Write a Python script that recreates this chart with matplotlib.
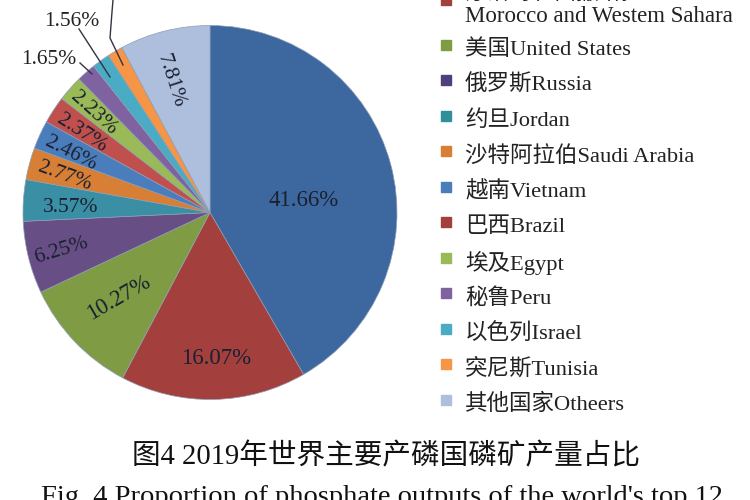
import matplotlib

matplotlib.use("Agg")
import matplotlib.pyplot as plt
import numpy as np

plt.rcParams["font.family"] = ["Liberation Serif", "Noto Sans CJK SC"]

values = [41.66, 16.07, 10.27, 6.25, 3.57, 2.77, 2.46, 2.37, 2.23, 1.65, 1.56, 1.33, 7.81]
pie_labels = ["41.66%", "16.07%", "10.27%", "6.25%", "3.57%", "2.77%", "2.46%", "2.37%", "2.23%", "", "", "", "7.81%"]
colors = ["#3c689f", "#a3403e", "#7f9c45", "#674f85", "#3a8fa5", "#d77f35", "#4a7dbb", "#bf504d",
          "#9aba58", "#7f63a1", "#4aabc5", "#f59545", "#aebfdd"]
legend_names = ["美国United States", "俄罗斯Russia", "约旦Jordan", "沙特阿拉伯Saudi Arabia", "越南Vietnam", "巴西Brazil",
                "埃及Egypt", "秘鲁Peru", "以色列Israel", "突尼斯Tunisia", "其他国家Otheers"]
legend_colors = ["#7f9c45", "#4f3f7f", "#2f8f9a", "#d77f35", "#4a7dbb", "#a3403e",
                 "#9aba58", "#7f63a1", "#4aabc5", "#f59545", "#aebfdd"]

# label placement in image pixels: x, y, rotation
label_pos = [(304, 200, 0), (216, 358, 0), (119, 298, 30), (61, 251, 17), (71, 208, 0), (65, 176, -20),
             (71, 154, -27), (82, 133, -33), (94, 113, -42), None, None, None, (170, 81, -72)]


def py(y):
    return 500 - y


fig = plt.figure(figsize=(7.5, 5), dpi=100)
ax = fig.add_axes([0, 0, 1, 1])
ax.pie(values, colors=colors, startangle=90, counterclock=False, center=(210, py(212.5)), radius=187,
       frame=True, wedgeprops={"edgecolor": "#8f9db5", "linewidth": 0.5})
ax.set_xlim(0, 750)
ax.set_ylim(0, 500)
ax.axis("off")

for i, (text, pos) in enumerate(zip(pie_labels, label_pos)):
    if pos:
        ax.text(pos[0], py(pos[1]), text, fontsize=16.5 if i < 3 else 15.5, color="#1a2030", rotation=pos[2],
                ha="center", va="center", rotation_mode="anchor")

# leaders for the small slices
ax.plot([80, 92], [py(63), py(74)], color="#333344", lw=1)
ax.plot([79, 110], [py(29), py(77)], color="#333344", lw=1)
ax.plot([113, 112, 110, 123], [py(0), py(12), py(38), py(65)], color="#333344", lw=1)
ax.text(49, py(60), "1.65%", fontsize=15.5, color="#222222", ha="center", va="center")
ax.text(72, py(22), "1.56%", fontsize=15.5, color="#222222", ha="center", va="center")

# legend
ax.plot(446, py(0), "s", ms=7, color="#a3403e", clip_on=True)
ax.text(465, py(-6), "摩洛哥和西撒哈拉", fontsize=16, color="#222222", va="center")
ax.text(465, py(16), "Morocco and Westem Sahara", fontsize=16.5, color="#222222", va="center")
for i, (name, col) in enumerate(zip(legend_names, legend_colors)):
    y = 49.5 + 35.5 * i
    ax.plot(446, py(y - 5), "s", ms=7, color=col)
    ax.text(465, py(y), name, fontsize=16.2, color="#222222", va="center")

ax.text(386, py(457), "图4 2019年世界主要产磷国磷矿产量占比", fontsize=20.6, color="#111111", ha="center", va="center")
ax.text(382, py(497), "Fig. 4 Proportion of phosphate outputs of the world's top 12", fontsize=20.5,
        color="#111111", ha="center", va="center")

fig.savefig("out.png", dpi=100)
